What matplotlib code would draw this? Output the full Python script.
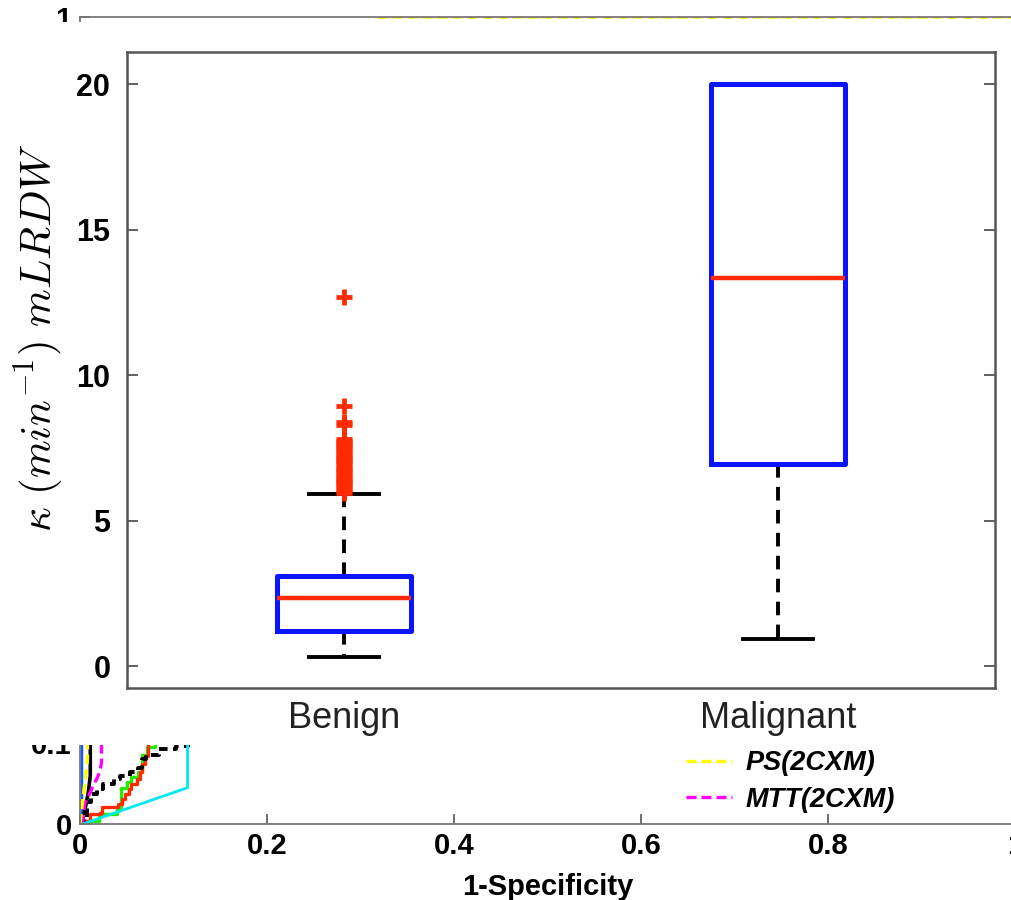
import numpy as np
import matplotlib as mpl
import matplotlib.pyplot as plt

mpl.rcParams['font.family'] = 'Liberation Sans'
mpl.rcParams['mathtext.fontset'] = 'cm'

# box plot summary of kappa per group
groups = ['Benign', 'Malignant']
whisker_low = [0.3, 0.95]
q1 = [1.2, 6.95]
median = [2.35, 13.35]
q3 = [3.1, 20.0]
whisker_high = [5.9, 20.0]
benign_outliers = [5.95, 6.02, 6.1, 6.18, 6.25, 6.33, 6.4, 6.48, 6.55, 6.63,
                   6.7, 6.78, 6.85, 6.93, 7.0, 7.08, 7.15, 7.23, 7.3, 7.38,
                   7.45, 7.53, 7.6, 7.68, 7.75, 7.82, 8.3, 8.38, 8.95, 12.7]
malignant_outliers = []

# ROC curves underneath (1-specificity, sensitivity)
roc_green_fpr = [0, 0.005, 0.02, 0.04, 0.044, 0.044, 0.05, 0.055, 0.062, 0.066, 0.072, 0.08, 0.082, 0.3, 0.6, 1, 1]
roc_green_tpr = [0, 0.004, 0.012, 0.02, 0.028, 0.045, 0.052, 0.058, 0.065, 0.085, 0.095, 0.1, 0.2, 0.8, 0.95, 0.95, 1]
roc_red_fpr = [0, 0.005, 0.011, 0.021, 0.023, 0.032, 0.041, 0.045, 0.048, 0.052, 0.055, 0.061, 0.064, 0.066, 0.07, 0.073, 0.075, 0.3, 0.6, 1, 1]
roc_red_tpr = [0, 0.004, 0.012, 0.014, 0.021, 0.021, 0.025, 0.031, 0.037, 0.043, 0.049, 0.056, 0.064, 0.074, 0.084, 0.1, 0.2, 0.8, 0.94, 0.94, 1]
roc_kdash_fpr = [0, 0.004, 0.007, 0.012, 0.018, 0.025, 0.036, 0.043, 0.053, 0.062, 0.066, 0.071, 0.085, 0.103, 0.115, 0.117, 0.4, 0.7, 1, 1]
roc_kdash_tpr = [0, 0.004, 0.027, 0.037, 0.043, 0.049, 0.056, 0.06, 0.064, 0.07, 0.08, 0.086, 0.093, 0.097, 0.1, 0.2, 0.8, 0.93, 0.93, 1]
roc_cyan_fpr = [0, 0.008, 0.115, 0.115, 0.4, 0.7, 1, 1]
roc_cyan_tpr = [0, 0.002, 0.045, 0.2, 0.8, 0.92, 0.92, 1]
roc_blue_fpr = [0, 0.002, 0.002, 0.05, 0.4, 1, 1]
roc_blue_tpr = [0, 0.01, 0.6, 0.85, 0.96, 0.96, 1]
roc_black_fpr = [0, 0.004, 0.009, 0.011, 0.011, 0.1, 0.45, 1, 1]
roc_black_tpr = [0, 0.01, 0.04, 0.06, 0.5, 0.8, 0.95, 0.95, 1]
roc_mag_fpr = [0, 0.003, 0.005, 0.011, 0.014, 0.018, 0.021, 0.023, 0.023, 0.2, 0.5, 1, 1]
roc_mag_tpr = [0, 0.005, 0.025, 0.039, 0.048, 0.056, 0.064, 0.076, 0.3, 0.85, 0.96, 0.96, 1]
roc_yel_fpr = [0, 0.002, 0.005, 0.007, 0.008, 0.008, 0.1, 0.32, 0.32, 1]
roc_yel_tpr = [0, 0.02, 0.05, 0.07, 0.08, 0.6, 0.9, 0.95, 1, 1]

W, H = 1011, 900
fig = plt.figure(figsize=(W / 100, H / 100), dpi=100)

# ---- ROC axes in the background ----
roc = fig.add_axes([80 / W, (H - 824) / H, 935 / W, 807 / H], zorder=1)
roc.plot(roc_green_fpr, roc_green_tpr, color='#22ee00', lw=2.4, drawstyle='steps-post')
roc.plot(roc_red_fpr, roc_red_tpr, color='#ff2a00', lw=2.4, drawstyle='steps-post')
roc.plot(roc_kdash_fpr, roc_kdash_tpr, color='black', lw=2.8, ls=(0, (2.2, 1.4)),
         drawstyle='steps-post')
roc.plot(roc_cyan_fpr, roc_cyan_tpr, color='#00e8f0', lw=2.0)
roc.plot(roc_blue_fpr, roc_blue_tpr, color='#1060ff', lw=2.0)
roc.plot(roc_black_fpr, roc_black_tpr, color='black', lw=2.6)
roc.plot(roc_mag_fpr, roc_mag_tpr, color='#ff00ff', lw=2.4, ls=(0, (3, 1.5)),
         label='MTT(2CXM)')
roc.plot(roc_yel_fpr, roc_yel_tpr, color='#ffff00', lw=2.4, ls=(0, (3, 1.5)),
         label='PS(2CXM)')
roc.set_xlim(0, 1)
roc.set_ylim(0, 1)
roc.set_xticks([0, 0.2, 0.4, 0.6, 0.8, 1])
roc.set_xticklabels(['0', '0.2', '0.4', '0.6', '0.8', '1'])
roc.set_yticks(np.round(np.arange(0, 1.01, 0.1), 1))
roc.set_yticklabels(['0', '0.1', '0.2', '0.3', '0.4', '0.5', '0.6', '0.7', '0.8', '0.9', '1'])
roc.tick_params(direction='in', length=7, width=1.2, colors='#555555',
                labelcolor='black', labelsize=21, pad=6)
for lab in roc.get_xticklabels() + roc.get_yticklabels():
    lab.set_fontweight('bold')
for s in roc.spines.values():
    s.set_color('#777777')
    s.set_linewidth(1.3)
roc.set_xlabel('1-Specificity', fontsize=21, fontweight='bold', labelpad=9)

handles, labels = roc.get_legend_handles_labels()
leg = roc.legend(handles[::-1], labels[::-1], loc='upper left',
                 bbox_to_anchor=(686 / W, (H - 750) / H), bbox_transform=fig.transFigure,
                 frameon=False, borderpad=0, borderaxespad=0, handlelength=1.7,
                 handletextpad=0.5, labelspacing=0.4,
                 prop={'size': 19.5, 'weight': 'bold', 'style': 'italic'})

# ---- white panel carrying the box plot ----
cover = fig.add_axes([0, (H - 745) / H, 1, (745 - 22) / H], zorder=2)
cover.set_facecolor('white')
cover.set_xticks([])
cover.set_yticks([])
for s in cover.spines.values():
    s.set_visible(False)

ax = fig.add_axes([127 / W, (H - 688) / H, 868 / W, 636 / H], zorder=3)
ax.patch.set_alpha(0)
fliers = [benign_outliers, malignant_outliers]
stats = []
for i, g in enumerate(groups):
    stats.append(dict(label=g, whislo=whisker_low[i], q1=q1[i], med=median[i],
                      q3=q3[i], whishi=whisker_high[i], fliers=fliers[i]))
ax.bxp(stats, positions=[1, 2], widths=0.31, capwidths=0.16,
       boxprops=dict(color='#0a14ff', lw=3.6, zorder=3),
       medianprops=dict(color='#ff2a00', lw=3.2, zorder=4),
       whiskerprops=dict(color='black', lw=2.8, ls=(0, (3.5, 2.4))),
       capprops=dict(color='black', lw=2.8),
       flierprops=dict(marker='+', markeredgecolor='#ff2a00', markersize=11,
                       markeredgewidth=3.4))
ax.set_xlim(0.5, 2.5)
ax.set_ylim(-0.75, 21.1)
ax.set_yticks([0, 5, 10, 15, 20])
ax.tick_params(axis='y', direction='in', length=8, width=1.3, colors='#555555',
               labelcolor='black', labelsize=22, pad=12, right=True)
ax.tick_params(axis='x', length=0, labelsize=26, labelcolor='#222222', pad=9)
for lab in ax.get_yticklabels():
    lab.set_fontweight('bold')
for s in ax.spines.values():
    s.set_color('#555555')
    s.set_linewidth(1.8)
ax.set_ylabel(r'$\kappa\ (min^{-1})\ mLRDW$', fontsize=31)
ax.yaxis.set_label_coords(-0.07, 0.55)

fig.savefig('out.png', dpi=100)
